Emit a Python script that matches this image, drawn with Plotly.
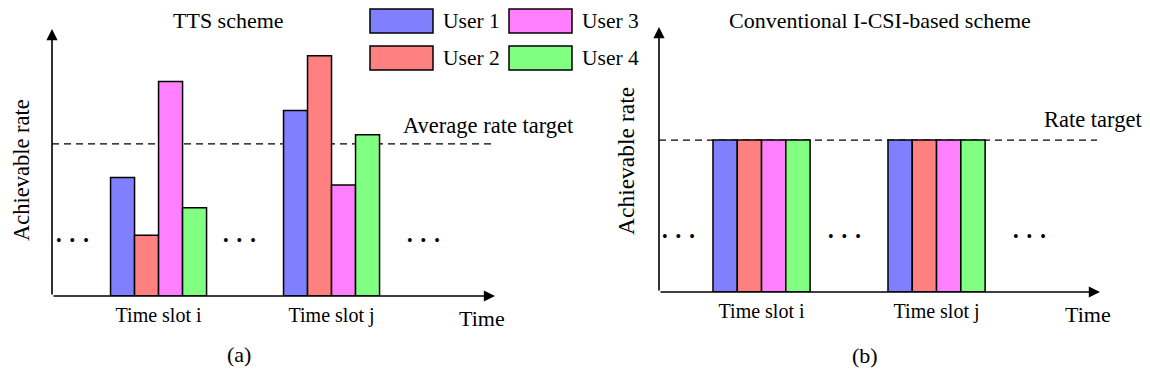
import plotly.graph_objects as go

W, H = 1150, 375
OFF = 8  # page body margin of the html page
FONT = 'Liberation Serif'

# ---- data -----------------------------------------------------------------
users = ['User 1', 'User 2', 'User 3', 'User 4']
colors = ['#8080ff', '#ff8080', '#ff80ff', '#80ff80']
slots = ['Time slot i', 'Time slot j']
slot_pos = [0, 1]

# achievable rate per user, [slot i, slot j]
tts_rates = [[3.9, 6.1], [2.0, 7.9], [7.05, 3.65], [2.9, 5.3]]
icsi_rates = [[5, 5], [5, 5], [5, 5], [5, 5]]
avg_target = 5
rate_target = 5


def px(x):
    return (x - OFF) / W


def py(y):
    return 1 - (y - OFF) / H


fig = go.Figure()

# ---- bars -----------------------------------------------------------------
for k, u in enumerate(users):
    fig.add_bar(x=slot_pos, y=tts_rates[k], name=u, xaxis='x', yaxis='y',
                marker=dict(color=colors[k], line=dict(color='black', width=1.5)),
                showlegend=False)
for k, u in enumerate(users):
    fig.add_bar(x=slot_pos, y=icsi_rates[k], name=u, xaxis='x2', yaxis='y2',
                marker=dict(color=colors[k], line=dict(color='black', width=1.5)),
                showlegend=False)

# axis ranges (slot units / rate units)
xa = [-0.616, 1.945]
xb = [-0.586, 1.934]
ya = [0, 8.78]
yb = [0, 8.72]

ax_common = dict(showgrid=False, zeroline=False, showline=False)
fig.update_layout(
    width=W, height=H,
    margin=dict(l=0, r=0, t=0, b=0),
    paper_bgcolor='white', plot_bgcolor='rgba(0,0,0,0)',
    barmode='group', bargap=0.445, bargroupgap=0,
    font=dict(family=FONT, color='black', size=21),
    xaxis=dict(domain=[px(52), px(495)], range=xa, tickvals=slot_pos, ticktext=slots,
               ticks='', tickfont=dict(size=20), ticklabelstandoff=5, anchor='y', **ax_common),
    yaxis=dict(domain=[py(296), py(29)], range=ya, showticklabels=False, ticks='',
               anchor='x', **ax_common),
    xaxis2=dict(domain=[px(659), px(1100)], range=xb, tickvals=slot_pos, ticktext=slots,
                ticks='', tickfont=dict(size=20), ticklabelstandoff=5, anchor='y2', **ax_common),
    yaxis2=dict(domain=[py(292), py(27)], range=yb, showticklabels=False, ticks='',
                anchor='x2', **ax_common),
)

# ---- target lines ---------------------------------------------------------
fig.add_shape(type='line', xref='x', yref='y', x0=xa[0], x1=1.928, y0=avg_target, y1=avg_target,
              line=dict(color='black', width=1.3, dash='7px,5px'), layer='below')
fig.add_shape(type='line', xref='x2', yref='y2', x0=xb[0], x1=1.917, y0=rate_target, y1=rate_target,
              line=dict(color='black', width=1.3, dash='7px,5px'), layer='below')

# ---- axis arrows ----------------------------------------------------------
for xr, yr, xrng, yrng in [('x', 'y', xa, ya), ('x2', 'y2', xb, yb)]:
    fig.add_annotation(xref=xr, yref=yr, axref=xr, ayref=yr, x=xrng[0], y=yrng[1],
                       ax=xrng[0], ay=0, text='', showarrow=True, arrowhead=2,
                       arrowsize=1.4, arrowwidth=1.6, arrowcolor='black', standoff=0)
    fig.add_annotation(xref=xr, yref=yr, axref=xr, ayref=yr, x=xrng[1], y=0,
                       ax=xrng[0], ay=0, text='', showarrow=True, arrowhead=2,
                       arrowsize=1.4, arrowwidth=1.6, arrowcolor='black', standoff=0)

# ---- legend (drawn) -------------------------------------------------------
legend_boxes = [(370, 9), (370, 46), (509, 9), (509, 46)]
for k, (bx, by) in enumerate(legend_boxes):
    fig.add_shape(type='rect', xref='paper', yref='paper', x0=px(bx), x1=px(bx + 63),
                  y0=py(by + 24), y1=py(by), fillcolor=colors[k],
                  line=dict(color='black', width=1.5))
    fig.add_annotation(xref='paper', yref='paper', x=px(bx + 71), y=py(by + 12),
                       text=users[k], showarrow=False, xanchor='left', yanchor='middle',
                       font=dict(size=21.5))


# ---- texts ----------------------------------------------------------------
def label(x, y, text, size=21, angle=0, xanchor='center'):
    fig.add_annotation(xref='paper', yref='paper', x=px(x), y=py(y), text=text,
                       showarrow=False, xanchor=xanchor, yanchor='middle',
                       textangle=angle, font=dict(size=size))


label(228, 21, 'TTS scheme', size=22)
label(880, 21, 'Conventional I-CSI-based scheme', size=22)
label(488, 125, 'Average rate target', size=22.5)
label(1093, 120, 'Rate target', size=22.5)
label(22, 170, 'Achievable rate', size=22.5, angle=-90)
label(626, 161, 'Achievable rate', size=23.5, angle=-90)
label(482, 318, 'Time', size=22)
label(1088, 314, 'Time', size=22)
label(239, 354, '(a)', size=22)
label(865, 355, '(b)', size=22)

dots = '\u2022\u2002\u2022\u2002\u2022'
for dx, dy in [(72, 240), (239, 240), (423, 240), (678, 236), (844, 236), (1029, 236)]:
    label(dx, dy, dots, size=16)

fig.write_html('out.html')
